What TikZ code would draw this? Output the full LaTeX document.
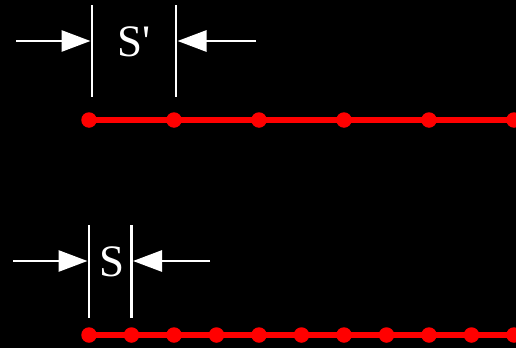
\documentclass[tikz,border=0pt]{standalone}
\usepackage{fontspec}
\setmainfont{Liberation Serif}
\usetikzlibrary{arrows.meta}
\begin{document}
\begin{tikzpicture}[x=1pt,y=-1pt,
  tick/.style={draw=white,line width=2.4pt},
  dimarrow/.style={draw=white,line width=2.8pt,-{Triangle[length=29pt,width=21pt]}},
  redline/.style={draw=red,line width=5.5pt},
  dot/.style={circle,fill=red,inner sep=0pt,minimum size=15.5pt},
  lbl/.style={text=white,font=\fontsize{45}{45}\selectfont,inner sep=0pt}]
\fill[black] (0,0) rectangle (516,348);
\useasboundingbox (0,0) rectangle (516,348);
% top row
\coordinate (t0) at (89,120);
\coordinate (tend) at (516,120);
\draw[redline] (t0) -- (tend);
\foreach \i in {0,...,5} {\node[dot] (td\i) at (89+85*\i,120) {};}
\coordinate (tka) at (92,5);
\coordinate (tkb) at (92,97);
\coordinate (tkc) at (176,5);
\coordinate (tkd) at (176,97);
\draw[tick] (tka) -- (tkb);
\draw[tick] (tkc) -- (tkd);
\coordinate (ta1) at (16,41);
\coordinate (ta2) at (90.5,41);
\coordinate (ta3) at (256,41);
\coordinate (ta4) at (177.5,41);
\draw[dimarrow] (ta1) -- (ta2);
\draw[dimarrow] (ta3) -- (ta4);
\node[lbl] (sp) at (134,42) {S\textquotesingle};
% bottom row
\coordinate (b0) at (89,335);
\coordinate (bend) at (516,335);
\draw[redline] (b0) -- (bend);
\foreach \i in {0,...,10} {\node[dot] (bd\i) at (89+42.5*\i,335) {};}
\coordinate (bka) at (89,225);
\coordinate (bkb) at (89,318);
\coordinate (bkc) at (131.5,225);
\coordinate (bkd) at (131.5,318);
\draw[tick] (bka) -- (bkb);
\draw[tick] (bkc) -- (bkd);
\coordinate (ba1) at (13,261);
\coordinate (ba2) at (87.5,261);
\coordinate (ba3) at (210,261);
\coordinate (ba4) at (133,261);
\draw[dimarrow] (ba1) -- (ba2);
\draw[dimarrow] (ba3) -- (ba4);
\node[lbl] (s) at (112,262) {S};
\end{tikzpicture}
\end{document}
